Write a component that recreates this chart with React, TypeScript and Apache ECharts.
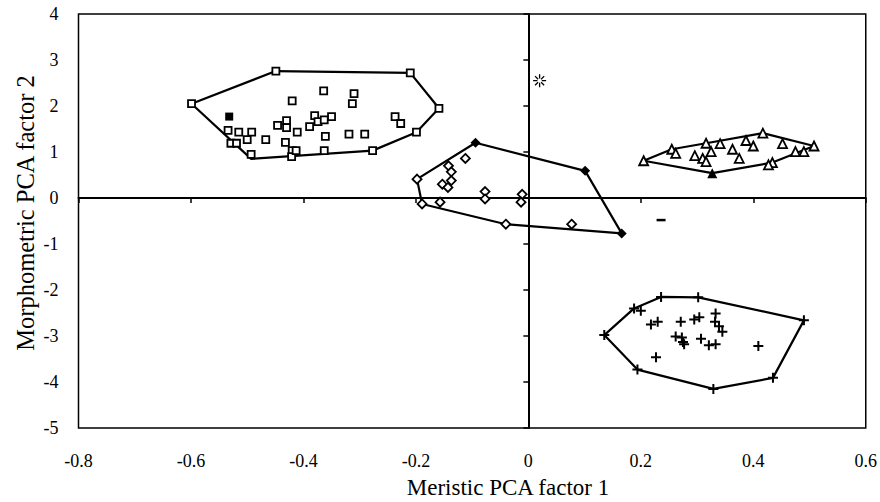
import React, { useEffect, useRef } from "react";
import * as echarts from "echarts";

// ---- Data ----
const xTicks = { min: -0.8, max: 0.6, interval: 0.2 };
const yTicks = { min: -5, max: 4, interval: 1 };

const xTitle = "Meristic PCA factor 1";
const yTitle = "Morphometric PCA factor 2";

// Group 1: open squares
const squaresOpen: [number, number][] = [
  [-0.599, 2.05], [-0.449, 2.76], [-0.21, 2.72], [-0.159, 1.95], [-0.199, 1.43], [-0.277, 1.03],
  [-0.364, 2.33], [-0.31, 2.27], [-0.42, 2.11], [-0.313, 2.05],
  [-0.534, 1.47], [-0.515, 1.43], [-0.492, 1.43], [-0.5, 1.27], [-0.529, 1.19], [-0.519, 1.19],
  [-0.467, 1.27], [-0.493, 0.95], [-0.446, 1.58], [-0.43, 1.68], [-0.43, 1.53], [-0.411, 1.43],
  [-0.432, 1.21], [-0.42, 1.03], [-0.421, 0.9], [-0.413, 1.03], [-0.389, 1.55], [-0.38, 1.79],
  [-0.374, 1.66], [-0.363, 1.7], [-0.35, 1.77], [-0.361, 1.34], [-0.363, 1.03], [-0.319, 1.39],
  [-0.291, 1.39], [-0.237, 1.77], [-0.227, 1.62],
];
const squaresFilled: [number, number][] = [[-0.532, 1.77]];
const squaresHull: [number, number][] = [
  [-0.599, 2.05], [-0.449, 2.76], [-0.21, 2.72], [-0.159, 1.95], [-0.199, 1.43],
  [-0.277, 1.03], [-0.493, 0.85], [-0.599, 2.05],
];

// Group 2: diamonds
const diamondsOpen: [number, number][] = [
  [-0.198, 0.41], [-0.189, -0.13], [-0.157, -0.09], [-0.112, 0.86], [-0.142, 0.7], [-0.137, 0.57],
  [-0.137, 0.38], [-0.153, 0.3], [-0.143, 0.23], [-0.077, 0.14], [-0.077, -0.02], [-0.011, 0.08],
  [-0.013, -0.09], [-0.04, -0.57], [0.077, -0.57],
];
const diamondsFilled: [number, number][] = [[-0.094, 1.2], [0.101, 0.59], [0.166, -0.77]];
const diamondsHull: [number, number][] = [
  [-0.094, 1.2], [0.101, 0.59], [0.166, -0.77], [-0.04, -0.57], [-0.189, -0.13], [-0.198, 0.41], [-0.094, 1.2],
];

// Group 3: triangles
const trianglesOpen: [number, number][] = [
  [0.205, 0.81], [0.255, 1.06], [0.262, 0.97], [0.316, 1.19], [0.325, 1.01], [0.296, 0.92],
  [0.31, 0.86], [0.316, 0.79], [0.341, 1.18], [0.363, 1.06], [0.375, 0.86], [0.387, 1.25],
  [0.4, 1.13], [0.417, 1.41], [0.452, 1.18], [0.434, 0.77], [0.427, 0.72], [0.475, 1.01],
  [0.49, 1.01], [0.508, 1.13],
];
const trianglesFilled: [number, number][] = [[0.327, 0.54]];
const trianglesHull: [number, number][] = [
  [0.205, 0.81], [0.255, 1.06], [0.316, 1.19], [0.417, 1.41], [0.508, 1.13], [0.434, 0.77], [0.327, 0.54], [0.205, 0.81],
];

// Group 4: crosses
const crosses: [number, number][] = [
  [0.135, -2.98], [0.188, -2.4], [0.236, -2.15], [0.302, -2.16], [0.49, -2.66], [0.435, -3.91],
  [0.329, -4.15], [0.194, -3.73],
  [0.2, -2.45], [0.218, -2.75], [0.23, -2.69], [0.227, -3.46], [0.271, -2.69], [0.262, -3.01],
  [0.273, -3.03], [0.275, -3.13], [0.277, -3.18], [0.295, -2.64], [0.304, -2.59], [0.307, -3.06],
  [0.321, -3.2], [0.333, -3.18], [0.333, -2.51], [0.332, -2.69], [0.339, -2.79], [0.345, -2.91],
  [0.409, -3.22],
];
const crossesHull: [number, number][] = [
  [0.135, -2.98], [0.188, -2.4], [0.236, -2.15], [0.302, -2.16], [0.49, -2.66], [0.435, -3.91],
  [0.329, -4.15], [0.194, -3.73], [0.135, -2.98],
];

// Single specimens
const asterisk: [number, number][] = [[0.02, 2.55]];
const dash: [number, number][] = [[0.236, -0.48]];

const FONT = "'Liberation Serif', 'Times New Roman', serif";

export default function App() {
  const ref = useRef<HTMLDivElement>(null);

  useEffect(() => {
    if (!ref.current) return;
    const chart = echarts.init(ref.current, undefined, { renderer: "svg" });

    const openStyle = { color: "#fff", borderColor: "#000", borderWidth: 1.8, opacity: 1 };
    const filledStyle = { color: "#000", opacity: 1 };
    const hull = (data: [number, number][]) => ({
      type: "line",
      data,
      showSymbol: false,
      symbol: "none",
      lineStyle: { color: "#000", width: 2.2 },
      z: 2,
      silent: true,
    });
    const scatter = (data: [number, number][], symbol: any, size: any, itemStyle: any) => ({
      type: "scatter",
      data,
      symbol,
      symbolSize: size,
      itemStyle,
      z: 3,
      silent: true,
    });

    const labelStyle = { fontSize: 18, fontFamily: FONT, color: "#000" };

    chart.setOption({
      animation: false,
      backgroundColor: "#fff",
      grid: {
        left: 78.5,
        top: 14,
        right: 13,
        bottom: 74,
        show: true,
        borderColor: "#000",
        borderWidth: 1.5,
        backgroundColor: "transparent",
      },
      xAxis: [
        {
          type: "value",
          min: xTicks.min,
          max: xTicks.max,
          interval: xTicks.interval,
          position: "bottom",
          axisLine: { show: false, onZero: false },
          axisTick: { show: false },
          splitLine: { show: false },
          axisLabel: {
            ...labelStyle,
            margin: 24,
            formatter: (v: number) => String(Math.round(v * 10) / 10),
          },
        },
        {
          type: "value",
          min: xTicks.min,
          max: xTicks.max,
          interval: xTicks.interval,
          position: "bottom",
          axisLine: { show: true, onZero: true, onZeroAxisIndex: 0, lineStyle: { color: "#000", width: 2 } },
          axisTick: { show: true, length: 5, lineStyle: { color: "#000", width: 1.5 } },
          splitLine: { show: false },
          axisLabel: { show: false },
        },
      ],
      yAxis: [
        {
          type: "value",
          min: yTicks.min,
          max: yTicks.max,
          interval: yTicks.interval,
          position: "left",
          axisLine: { show: false, onZero: false },
          axisTick: { show: false },
          splitLine: { show: false },
          axisLabel: { ...labelStyle, margin: 20 },
        },
        {
          type: "value",
          min: yTicks.min,
          max: yTicks.max,
          interval: yTicks.interval,
          position: "left",
          axisLine: { show: true, onZero: true, onZeroAxisIndex: 0, lineStyle: { color: "#000", width: 2 } },
          axisTick: { show: true, length: 5, lineStyle: { color: "#000", width: 1.5 } },
          splitLine: { show: false },
          axisLabel: { show: false },
        },
      ],
      graphic: [
        {
          type: "text",
          x: 508,
          y: 487,
          style: { text: xTitle, font: `23px ${FONT}`, fill: "#000", align: "center", verticalAlign: "middle" },
        },
        {
          type: "text",
          x: 25,
          y: 213,
          rotation: Math.PI / 2,
          style: { text: yTitle, font: `24.5px ${FONT}`, fill: "#000", align: "center", verticalAlign: "middle" },
        },
      ],
      series: [
        hull(squaresHull),
        hull(diamondsHull),
        hull(trianglesHull),
        hull(crossesHull),
        scatter(squaresOpen, "rect", 7, openStyle),
        scatter(squaresFilled, "rect", 8, filledStyle),
        scatter(diamondsOpen, "diamond", 9, openStyle),
        scatter(diamondsFilled, "diamond", 10, filledStyle),
        scatter(trianglesOpen, "triangle", 9, openStyle),
        scatter(trianglesFilled, "triangle", 10, filledStyle),
        scatter(crosses, "path://M4,0H6V4H10V6H6V10H4V6H0V4H4Z", 10, filledStyle),
        scatter(
          asterisk,
          "path://M6,0L6,4M6,8L6,12M0,6L4,6M8,6L12,6M1.8,1.8L4.6,4.6M7.4,7.4L10.2,10.2M1.8,10.2L4.6,7.4M7.4,4.6L10.2,1.8",
          13,
          { color: "none", borderColor: "#000", borderWidth: 1.3, opacity: 1 }
        ),
        scatter(dash, "rect", [9, 2.5], filledStyle),
      ],
    });

    return () => chart.dispose();
  }, []);

  return (
    <div
      ref={ref}
      style={{ position: "fixed", left: 0, top: 0, width: 880, height: 502, background: "#fff" }}
    />
  );
}
